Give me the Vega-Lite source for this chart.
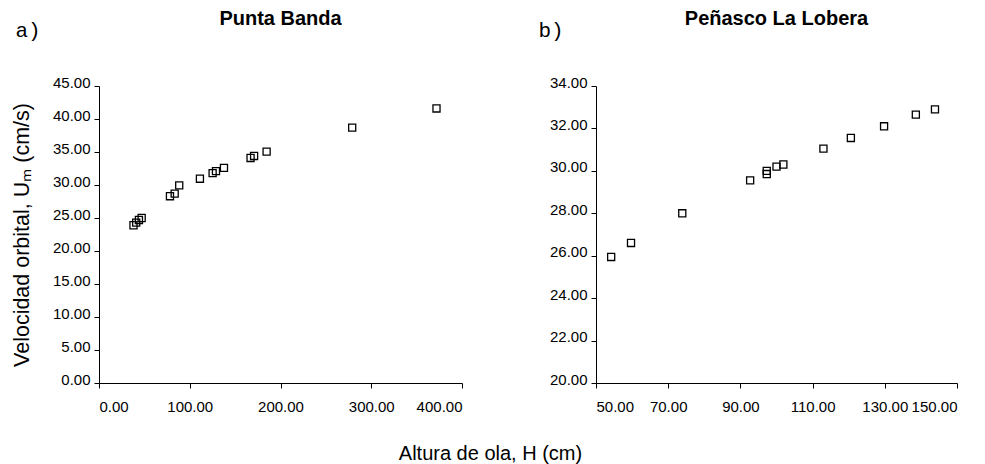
{
  "$schema": "https://vega.github.io/schema/vega-lite/v6.json",
  "padding": {"left": 11, "top": 9, "right": 5, "bottom": 0},
  "background": "white",
  "spacing": 75,
  "title": {"text": "Altura de ola, H (cm)", "orient": "bottom", "anchor": "middle", "font": "Liberation Sans", "fontSize": 20, "fontWeight": "normal", "color": "black", "offset": 30, "dx": 6},
  "config": {
    "view": {"stroke": null},
    "axis": {
      "grid": false,
      "domainColor": "black",
      "tickColor": "black",
      "labelColor": "black",
      "labelFont": "Liberation Sans",
      "labelFontSize": 15,
      "tickSize": 5,
      "titleFont": "Liberation Sans",
      "titleFontSize": 20,
      "titleFontWeight": "normal",
      "titleColor": "black"
    },
    "axisX": {"labelPadding": 11},
    "axisY": {"labelPadding": 4, "labelBaseline": "alphabetic", "labelOffset": 1}
  },
  "hconcat": [
    {
      "title": {"text": "a)", "anchor": "start", "font": "Liberation Mono", "fontSize": 21, "fontWeight": "normal", "color": "black", "offset": 0, "dy": 32, "dx": 4},
      "vconcat": [
        {
          "title": {"text": "Punta Banda", "frame": "group", "anchor": "middle", "font": "Liberation Sans", "fontSize": 20, "fontWeight": "bold", "color": "black", "offset": 27, "dy": -19},
          "width": 363,
          "height": 297,
          "data": {"values": [
            {"H": 38, "U": 23.9}, {"H": 41, "U": 24.3}, {"H": 44, "U": 24.7}, {"H": 47, "U": 25.0},
            {"H": 78.2, "U": 28.3}, {"H": 83.4, "U": 28.7}, {"H": 88.4, "U": 29.95},
            {"H": 111.2, "U": 30.95}, {"H": 125.2, "U": 31.8}, {"H": 128.9, "U": 32.1}, {"H": 137.7, "U": 32.6},
            {"H": 167, "U": 34.1}, {"H": 170.9, "U": 34.4}, {"H": 184.7, "U": 35.05},
            {"H": 279, "U": 38.7}, {"H": 371.9, "U": 41.6}
          ]},
          "mark": {"type": "point", "shape": "square", "filled": false, "size": 50, "stroke": "black", "strokeWidth": 1.3, "opacity": 1},
          "encoding": {
            "x": {"field": "H", "type": "quantitative", "scale": {"domain": [0, 400], "nice": false, "zero": false},
                  "axis": {"title": null, "values": [0, 100, 200, 300, 400], "format": ".2f"}},
            "y": {"field": "U", "type": "quantitative", "scale": {"domain": [0, 45], "nice": false, "zero": false},
                  "axis": {"title": "Velocidad orbital, Uₘ (cm/s)", "titleFontSize": 21.5, "titlePadding": 19, "values": [0, 5, 10, 15, 20, 25, 30, 35, 40, 45], "format": ".2f"}}
          }
        }
      ]
    },
    {
      "title": {"text": "b)", "anchor": "start", "font": "Liberation Mono", "fontSize": 21, "fontWeight": "normal", "color": "black", "offset": 0, "dy": 32, "dx": -11},
      "vconcat": [
        {
          "title": {"text": "Peñasco La Lobera", "frame": "group", "anchor": "middle", "font": "Liberation Sans", "fontSize": 20, "fontWeight": "bold", "color": "black", "offset": 27, "dy": -19},
          "width": 361,
          "height": 297,
          "data": {"values": [
            {"H": 54.2, "U": 25.94}, {"H": 59.7, "U": 26.6}, {"H": 73.9, "U": 28.0},
            {"H": 92.7, "U": 29.55}, {"H": 97.3, "U": 29.85}, {"H": 97.3, "U": 30.0},
            {"H": 100, "U": 30.2}, {"H": 101.9, "U": 30.3}, {"H": 113, "U": 31.05},
            {"H": 120.6, "U": 31.55}, {"H": 129.8, "U": 32.1}, {"H": 138.6, "U": 32.65}, {"H": 143.9, "U": 32.9}
          ]},
          "mark": {"type": "point", "shape": "square", "filled": false, "size": 50, "stroke": "black", "strokeWidth": 1.3, "opacity": 1},
          "encoding": {
            "x": {"field": "H", "type": "quantitative", "scale": {"domain": [50, 150], "nice": false, "zero": false},
                  "axis": {"title": null, "values": [50, 70, 90, 110, 130, 150], "format": ".2f"}},
            "y": {"field": "U", "type": "quantitative", "scale": {"domain": [20, 34], "nice": false, "zero": false},
                  "axis": {"title": null, "values": [20, 22, 24, 26, 28, 30, 32, 34], "format": ".2f"}}
          }
        }
      ]
    }
  ]
}
